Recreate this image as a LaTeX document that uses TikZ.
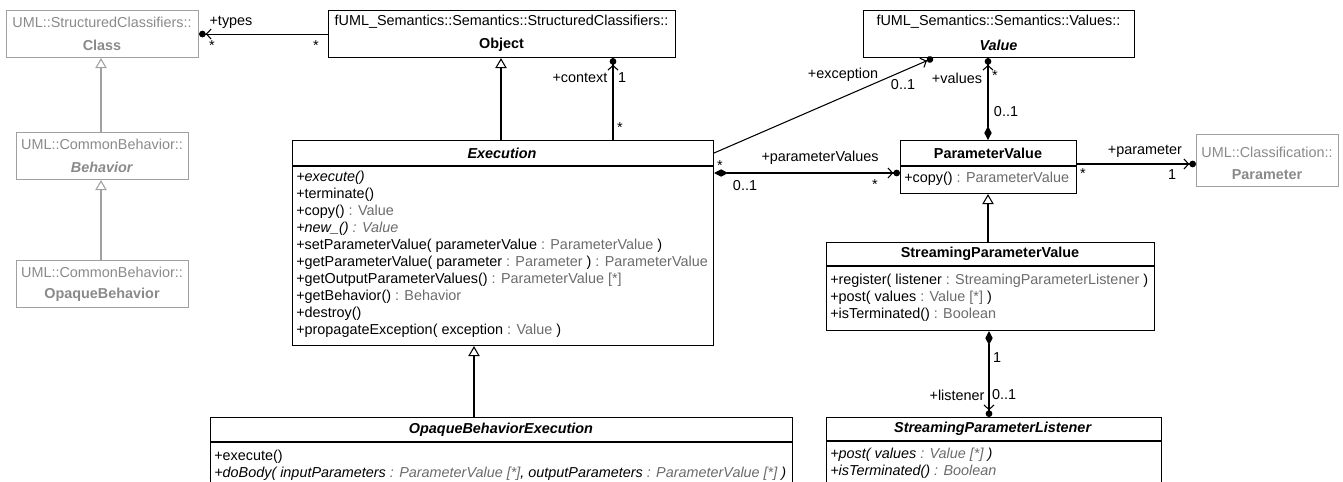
\documentclass[tikz,border=0pt]{standalone}
\usepackage{fontspec}
\setmainfont{Liberation Sans}
\usepackage{xcolor}
\usetikzlibrary{arrows.meta}
\definecolor{extgray}{HTML}{8A8A8A}
\definecolor{extline}{HTML}{A0A0A0}
\definecolor{typegray}{HTML}{6B6B6B}
\newcommand{\ty}[1]{\textcolor{typegray}{#1}}

\begin{document}
\begin{tikzpicture}[x=0.75pt,y=-0.75pt,
  every node/.style={font=\fontsize{10.8}{12.75}\selectfont,inner sep=0pt},
  box/.style={draw,line width=0.8pt,anchor=north west},
  extbox/.style={draw=extline,line width=0.8pt,anchor=north west,text=extgray},
  ops/.style={anchor=north west,align=left},
  gen/.style={line width=0.8pt,-{Triangle[open,length=7.5pt,width=8.5pt,fill=white]}},
  extgen/.style={gen,draw=extline},
  assoc/.style={line width=0.8pt,-{Straight Barb[length=3.5pt,width=7.5pt]Circle[length=5pt]}},
  comp/.style={line width=0.8pt,{Diamond[length=10.5pt,width=5.5pt]}-{Straight Barb[length=3.5pt,width=7.5pt]Circle[length=5pt]}}]
  \useasboundingbox (0,0) rectangle (1343,482);
  \clip (0,0) rectangle (1343,482);

  % imported UML classes
  \node[extbox,minimum width=144pt,minimum height=35.25pt] (cls) at (6,10) {};
  \node[text=extgray] (clsns) at (102,22) {UML::StructuredClassifiers::};
  \node[text=extgray] (clsnm) at (102,45) {\textbf{Class}};
  \node[extbox,minimum width=129pt,minimum height=35.25pt] (beh) at (16,132) {};
  \node[text=extgray] (behns) at (102,144) {UML::CommonBehavior::};
  \node[text=extgray] (behnm) at (102,167) {\textbf{\textit{Behavior}}};
  \node[extbox,minimum width=129pt,minimum height=35.25pt] (obeh) at (16,260) {};
  \node[text=extgray] (obehns) at (102,272) {UML::CommonBehavior::};
  \node[text=extgray] (obehnm) at (102,295) {\textbf{OpaqueBehavior}};
  \node[extbox,minimum width=106.5pt,minimum height=39pt] (par) at (1196,134) {};
  \node[text=extgray] (parns) at (1267,152) {UML::Classification::};
  \node[text=extgray] (parnm) at (1267,175) {\textbf{Parameter}};

  % fUML classes
  \node[box,minimum width=260.25pt,minimum height=35.25pt] (obj) at (328,10) {};
  \node (objns) at (501.5,22) {fUML\_Semantics::Semantics::StructuredClassifiers::};
  \node (objnm) at (501.5,45) {\textbf{Object}};
  \node[box,minimum width=203.25pt,minimum height=35.25pt] (val) at (863,10) {};
  \node (valns) at (998.5,22) {fUML\_Semantics::Semantics::Values::};
  \node (valnm) at (998.5,45) {\textbf{\textit{Value}}};

  \node[box,minimum width=315.75pt,minimum height=153.75pt] (exec) at (292,140) {};
  \draw[line width=0.8pt] (exec.west |- 0,166) -- (exec.east |- 0,166);
  \node (exechd) at (502,153) {\textbf{\textit{Execution}}};
  \node[ops] (execops) at (296,171) {\textit{+execute()}\\
    +terminate()\\
    +copy() \ty{: Value}\\
    \textit{+new\_() \ty{: Value}}\\
    +setParameterValue( parameterValue \ty{: ParameterValue} )\\
    +getParameterValue( parameter \ty{: Parameter} ) \ty{: ParameterValue}\\
    +getOutputParameterValues() \ty{: ParameterValue [*]}\\
    +getBehavior() \ty{: Behavior}\\
    +destroy()\\
    +propagateException( exception \ty{: Value} )};

  \node[box,minimum width=132pt,minimum height=39.75pt] (pv) at (900,140) {};
  \draw[line width=0.8pt] (pv.west |- 0,166) -- (pv.east |- 0,166);
  \node (pvhd) at (988,153) {\textbf{ParameterValue}};
  \node[ops] (pvops) at (904,172) {+copy() \ty{: ParameterValue}};

  \node[box,minimum width=246pt,minimum height=66pt] (spv) at (826,242) {};
  \draw[line width=0.8pt] (spv.west |- 0,266) -- (spv.east |- 0,266);
  \node (spvhd) at (990,254) {\textbf{StreamingParameterValue}};
  \node[ops] (spvops) at (830,274) {+register( listener \ty{: StreamingParameterListener} )\\
    +post( values \ty{: Value [*]} )\\
    +isTerminated() \ty{: Boolean}};

  \node[box,minimum width=251.25pt,minimum height=60pt] (spl) at (826,417) {};
  \draw[line width=0.8pt] (spl.west |- 0,441) -- (spl.east |- 0,441);
  \node (splhd) at (993,429) {\textbf{\textit{StreamingParameterListener}}};
  \node[ops] (splops) at (830,448) {\textit{+post( values \ty{: Value [*]} )}\\
    \textit{+isTerminated() \ty{: Boolean}}};

  \node[box,minimum width=436.5pt,minimum height=60pt] (obex) at (210,417) {};
  \draw[line width=0.8pt] (obex.west |- 0,442) -- (obex.east |- 0,442);
  \node (obexhd) at (501,430) {\textbf{\textit{OpaqueBehaviorExecution}}};
  \node[ops] (obexops) at (214,450) {+execute()\\
    \textit{+doBody( inputParameters \ty{: ParameterValue [*]}, outputParameters \ty{: ParameterValue [*]} )}};

  % generalizations
  \draw[extgen] (beh.north -| 101,0) -- (cls.south -| 101,0);
  \draw[extgen] (obeh.north -| 101,0) -- (beh.south -| 101,0);
  \draw[gen] (exec.north -| 501,0) -- (obj.south -| 501,0);
  \draw[gen] (spv.north -| 988,0) -- (pv.south -| 988,0);
  \draw[gen] (obex.north -| 474,0) -- (exec.south -| 474,0);

  % associations
  \draw[assoc] (obj.west) -- (cls.east);
  \node (typesr) at (231,22) {+types};
  \node (typesm) at (212,46) {*};
  \node (typeso) at (316,46) {*};

  \draw[assoc] (exec.north -| 613,0) -- (obj.south -| 613,0);
  \node (ctxr) at (580,78) {+context};
  \node (ctxm) at (622,78) {1};
  \node (ctxo) at (620,128) {*};

  \draw[assoc] (exec.east |- 0,153) -- (val.south -| 933,0);
  \node (excr) at (843,75) {+exception};
  \node (excm) at (903,85) {0..1};
  \node (exco) at (720,166) {*};

  \draw[comp] (exec.east |- 0,173) -- (pv.west |- 0,173);
  \node (pvsr) at (820,158) {+parameterValues};
  \node (pvso) at (745,186) {0..1};
  \node (pvsm) at (875,185) {*};

  \draw[comp] (pv.north -| 988,0) -- (val.south -| 988,0);
  \node (valsr) at (957,78) {+values};
  \node (valsm) at (995,76) {*};
  \node (valso) at (1006,112) {0..1};

  \draw[assoc] (pv.east |- 0,164) -- (par.west |- 0,164);
  \node (parr) at (1145,151) {+parameter};
  \node (paro) at (1083,174) {*};
  \node (parm) at (1172,175) {1};

  \draw[comp] (spv.south -| 989,0) -- (spl.north -| 989,0);
  \node (lsto) at (997,358) {1};
  \node (lstr) at (957,395) {+listener};
  \node (lstm) at (1004,395) {0..1};
\end{tikzpicture}
\end{document}
